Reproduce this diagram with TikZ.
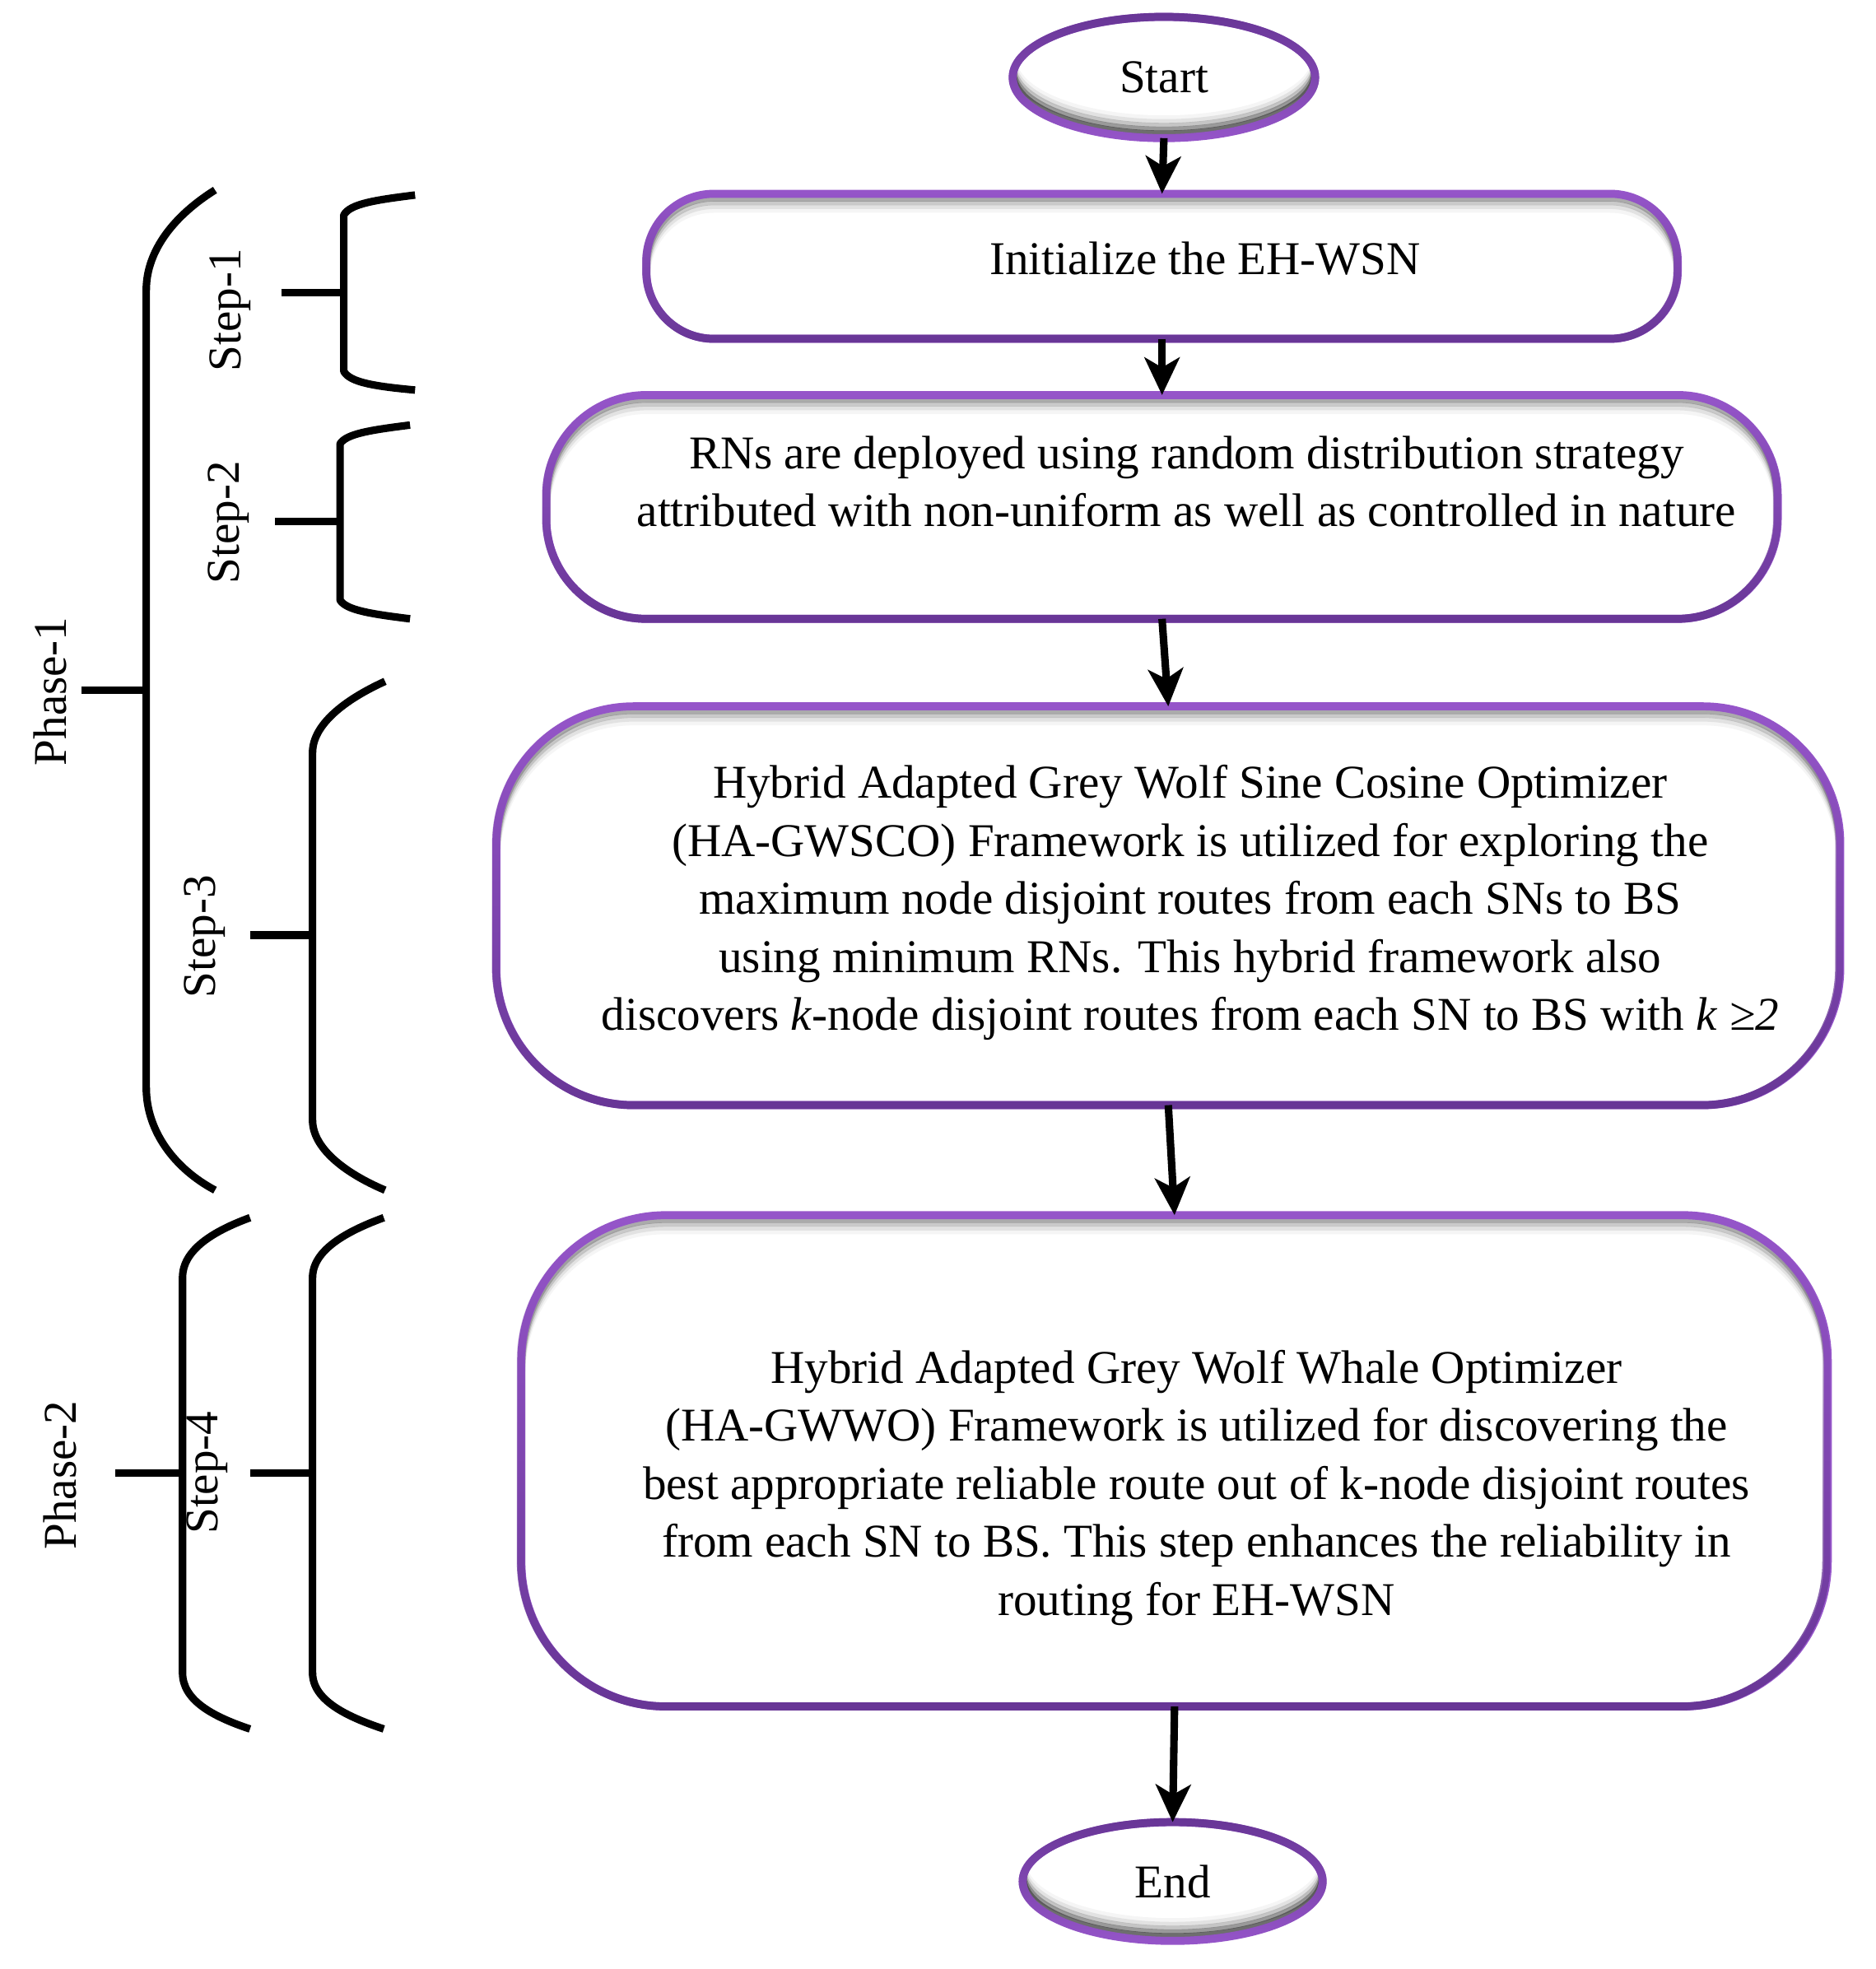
\documentclass[tikz,border=0pt]{standalone}
\usepackage{fontspec}
\setmainfont{Liberation Serif}
\usetikzlibrary{arrows.meta,shapes.geometric,fadings}
\pgfdeclarelayer{bg}
\pgfsetlayers{bg,main}
\definecolor{purp}{RGB}{150,86,202}
\definecolor{purpD}{RGB}{104,54,150}
\begin{document}
\begin{tikzpicture}[x=0.5pt,y=-0.5pt,
  txt/.style={font=\fontsize{18.8}{23.2}\selectfont, align=center, inner sep=0pt},
  flowbox/.style={draw=purp, line width=3.2pt, inner sep=0pt, outer sep=0pt},
  term/.style={flowbox, ellipse, font=\fontsize{18.8}{23.2}\selectfont},
  arr/.style={line width=3pt, -{Stealth[length=15pt,width=14pt,inset=4pt]}},
  brk/.style={line width=3pt, line join=round},
  side/.style={txt, rotate=90}]

\useasboundingbox (0,0) rectangle (1500,1575);

% terminals
\node[term, minimum width=121pt, minimum height=48.5pt] (start) at (931,62) {Start};
\node[term, minimum width=120pt, minimum height=47.5pt] (end) at (938,1505) {End};

% process boxes
\node[flowbox, rounded corners=27pt, minimum width=412.5pt, minimum height=58pt] (b1) at (929.5,213) {};
\node[flowbox, rounded corners=40pt, minimum width=492.5pt, minimum height=89.5pt] (b2) at (929.5,405.5) {};
\node[flowbox, rounded corners=55pt, minimum width=537.5pt, minimum height=159.5pt] (b3) at (934.5,724.5) {};
\node[flowbox, rounded corners=58pt, minimum width=522.5pt, minimum height=196.5pt] (b4) at (939.5,1168.5) {};

% darker upper border (boxes), darker lower border (terminals)
\foreach \n/\r in {b1/27pt,b2/40pt,b3/55pt,b4/58pt}{
  \draw[purpD, line width=3.2pt, rounded corners=\r, path fading=north] (\n.south west) rectangle (\n.north east);}
\foreach \n/\a/\b in {start/60.5pt/24.25pt,end/60pt/23.75pt}{
  \draw[purpD, line width=3.2pt, path fading=south] (\n.center) ellipse [x radius=\a, y radius=\b];}

% box texts
\node[txt] (t1) at (964,207) {Initialize the EH-WSN};
\node[txt] (t2) at (949,385) {RNs are deployed using random distribution strategy\\attributed with non-uniform as well as controlled in nature};
\node[txt] (t3) at (952,722) {Hybrid Adapted Grey Wolf Sine Cosine Optimizer\\(HA-GWSCO) Framework is utilized for exploring the\\maximum node disjoint routes from each SNs to BS\\using minimum RNs. This hybrid framework also\\discovers \textit{k}-node disjoint routes from each SN to BS with \textit{k} \textit{≥2}};
\node[txt] (t4) at (957,1190) {Hybrid Adapted Grey Wolf Whale Optimizer\\(HA-GWWO) Framework is utilized for discovering the\\best appropriate reliable route out of k-node disjoint routes\\from each SN to BS. This step enhances the reliability in\\routing for EH-WSN};

% inner shadows
\begin{pgfonlayer}{bg}
\foreach \n/\r in {b1/27pt,b2/40pt,b3/55pt,b4/58pt}{
  \begin{scope}
    \clip[rounded corners=\r] (\n.south west) rectangle (\n.north east);
    \foreach \s/\o in {1.5/.22,3/.14,4.5/.08,6/.04}{
      \draw[black,opacity=\o,line width=3.2pt,rounded corners=\r] ([yshift=-\s pt]\n.south west) rectangle ([yshift=-\s pt]\n.north east);}
  \end{scope}}
\foreach \n/\a/\b in {start/60.5pt/24.25pt,end/60pt/23.75pt}{
  \begin{scope}
    \clip (\n.center) ellipse [x radius=\a, y radius=\b];
    \foreach \s/\o in {1.5/.4,3/.28,4.5/.16,6/.08,7.5/.04}{
      \draw[black,opacity=\o,line width=3.2pt] ([yshift=\s pt]\n.center) ellipse [x radius=\a, y radius=\b];}
  \end{scope}}
\end{pgfonlayer}

% connectors
\draw[arr] (start.south) -- (b1.north);
\draw[arr] (b1.south) -- (b2.north);
\draw[arr] (b2.south) -- (b3.north);
\draw[arr] (b3.south) -- (b4.north);
\draw[arr] (b4.south) -- (end.north);

% brackets
\draw[brk] (172,152) .. controls (140,172) and (117,200) .. (117,232) -- (117,870) .. controls (117,905) and (140,935) .. (172,952);
\draw[brk] (65,552) -- (117,552);
\node[side] (p1) at (40,553) {Phase-1};

\draw[brk] (332,156) .. controls (300,160) and (280,163) .. (275,172) -- (275,297) .. controls (280,306) and (300,309) .. (332,312);
\draw[brk] (225,234) -- (275,234);
\node[side] (s1) at (184,248) {Step-1};

\draw[brk] (328,340) .. controls (296,344) and (277,347) .. (272,355) -- (272,480) .. controls (277,488) and (296,491) .. (328,495);
\draw[brk] (220,417) -- (272,417);
\node[side] (s2) at (183,418) {Step-2};

\draw[brk] (308,545) .. controls (275,560) and (250,580) .. (250,602) -- (250,896) .. controls (250,918) and (275,938) .. (308,952);
\draw[brk] (200,748) -- (250,748);
\node[side] (s3) at (164,749) {Step-3};

\draw[brk] (200,974) .. controls (170,985) and (146,1000) .. (146,1022) -- (146,1338) .. controls (146,1360) and (170,1373) .. (200,1383);
\draw[brk] (92,1178) -- (146,1178);
\node[side] (p2) at (48,1180) {Phase-2};

\draw[brk] (307,974) .. controls (277,985) and (250,1000) .. (250,1022) -- (250,1338) .. controls (250,1360) and (277,1373) .. (307,1383);
\draw[brk] (200,1178) -- (250,1178);
\node[side] (s4) at (166,1178) {Step-4};
\end{tikzpicture}
\end{document}
